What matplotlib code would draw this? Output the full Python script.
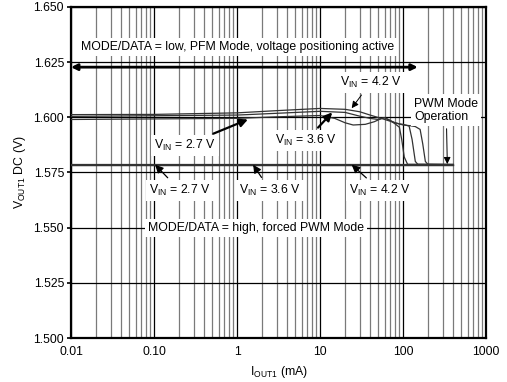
import matplotlib
matplotlib.use('Agg')
import matplotlib.pyplot as plt
from matplotlib.ticker import FixedLocator, NullFormatter

plt.rcParams['font.family'] = ['Liberation Sans', 'DejaVu Sans']
plt.rcParams['mathtext.fontset'] = 'custom'
plt.rcParams['mathtext.rm'] = 'Liberation Sans'

# PFM mode (MODE/DATA = low) curves, Iout in mA, Vout in V
i_42 = [0.01, 0.1, 1, 3, 10, 20, 30, 40, 60, 80, 100, 120, 140, 160, 172, 185, 198, 400]
v_42 = [1.6012, 1.6013, 1.6020, 1.6030, 1.6040, 1.6036, 1.6025, 1.6010, 1.5990, 1.5975,
        1.5965, 1.5962, 1.5958, 1.5945, 1.5880, 1.5800, 1.5787, 1.5786]

i_36 = [0.01, 1, 3, 10, 20, 30, 40, 50, 60, 70, 80, 90, 100, 118, 128, 140, 150, 400]
v_36 = [1.6004, 1.6010, 1.6018, 1.6027, 1.6022, 1.6005, 1.5995, 1.5990, 1.5998, 1.5985,
        1.5975, 1.5970, 1.5968, 1.5960, 1.5900, 1.5800, 1.5787, 1.5786]

i_27 = [0.01, 1, 3, 10, 15, 20, 25, 35, 45, 55, 60, 70, 80, 90, 96, 103, 113, 400]
v_27 = [1.5990, 1.5995, 1.6002, 1.6008, 1.5995, 1.5975, 1.5965, 1.5968, 1.5980, 1.5995,
        1.5998, 1.5985, 1.5970, 1.5955, 1.5900, 1.5820, 1.5787, 1.5786]

# forced PWM mode (MODE/DATA = high)
i_pwm = [0.01, 400]
v_pwm_27 = [1.5785, 1.5785]
v_pwm_36 = [1.5786, 1.5786]
v_pwm_42 = [1.5787, 1.5787]

x_ticks = [0.01, 0.1, 1, 10, 100, 1000]
x_labels = ['0.01', '0.10', '1', '10', '100', '1000']
y_ticks = [1.500, 1.525, 1.550, 1.575, 1.600, 1.625, 1.650]

fs = 8.8

fig = plt.figure(figsize=(5.07, 3.82), dpi=100)
ax = fig.add_axes([0.140, 0.115, 0.819, 0.867])
ax.set_xscale('log')
ax.set_xlim(0.01, 1000)
ax.set_ylim(1.5, 1.65)

# grid
ax.xaxis.set_minor_locator(FixedLocator([m * 10.0 ** e for e in range(-2, 3) for m in range(2, 10)]))
ax.xaxis.set_minor_formatter(NullFormatter())
ax.grid(True, which='major', axis='both', color='black', lw=0.9)
ax.grid(True, which='minor', axis='x', color='#7a7a7a', lw=0.9)
ax.set_axisbelow(True)

ax.set_xticks(x_ticks)
ax.set_xticklabels(x_labels)
ax.set_yticks(y_ticks)
ax.set_yticklabels(['%.3f' % v for v in y_ticks])
ax.tick_params(axis='both', which='both', labelsize=fs, length=0)
ax.tick_params(axis='x', which='major', pad=6)
ax.tick_params(axis='y', which='major', length=3, width=1.2, direction='out', pad=2)
for s in ax.spines.values():
    s.set_linewidth(1.6)

for i, v in [(i_42, v_42), (i_36, v_36), (i_27, v_27)]:
    ax.plot(i, v, color='#333333', lw=0.9, zorder=3)
for v in [v_pwm_27, v_pwm_36, v_pwm_42]:
    ax.plot(i_pwm, v, color='#333333', lw=0.9, zorder=3)

ax.set_xlabel(r'I$_{\mathregular{OUT1}}$ (mA)', fontsize=fs, labelpad=4)
ax.set_ylabel(r'V$_{\mathregular{OUT1}}$ DC (V)', fontsize=fs, labelpad=4)

box = dict(boxstyle='square,pad=0.25', fc='white', ec='none')
thin = dict(arrowstyle='-|>', color='black', lw=0.7, mutation_scale=10, shrinkA=2, shrinkB=0)
mid = dict(arrowstyle='-|>', color='black', lw=0.9, mutation_scale=12, shrinkA=2, shrinkB=0)
thick = dict(arrowstyle='-|>', color='black', lw=1.6, mutation_scale=12, shrinkA=2, shrinkB=0)

# PFM range arrow
ax.annotate('', xy=(0.01, 1.6227), xytext=(150, 1.6227),
            arrowprops=dict(arrowstyle='<|-|>', color='black', lw=2, mutation_scale=9,
                            shrinkA=0, shrinkB=0), zorder=4)
ax.text(1.0, 1.6320, 'MODE/DATA = low, PFM Mode, voltage positioning active',
        fontsize=fs, ha='center', va='center', bbox=box, zorder=5)
ax.text(1.7, 1.5500, 'MODE/DATA = high, forced PWM Mode',
        fontsize=fs, ha='center', va='center', bbox=box, zorder=5)

ax.annotate(r'V$_{\mathregular{IN}}$ = 4.2 V', xy=(24, 1.6041), xytext=(41, 1.6159),
            fontsize=fs, ha='center', va='center', bbox=box, arrowprops=thin, zorder=5)
ax.annotate(r'V$_{\mathregular{IN}}$ = 3.6 V', xy=(14, 1.6022), xytext=(6.8, 1.5896),
            fontsize=fs, ha='center', va='center', bbox=box, arrowprops=thick, zorder=5)
ax.annotate(r'V$_{\mathregular{IN}}$ = 2.7 V', xy=(1.35, 1.5990), xytext=(0.236, 1.5873),
            fontsize=fs, ha='center', va='center', bbox=box, arrowprops=thick, zorder=5)
ax.annotate('PWM Mode\nOperation', xy=(340, 1.5788), xytext=(330, 1.6032),
            fontsize=fs, ha='center', va='center', multialignment='left', bbox=box,
            linespacing=1.15, arrowprops=thin, zorder=5)

ax.annotate(r'V$_{\mathregular{IN}}$ = 2.7 V', xy=(0.103, 1.5785), xytext=(0.205, 1.5669),
            fontsize=fs, ha='center', va='center', bbox=box, arrowprops=mid, zorder=5)
ax.annotate(r'V$_{\mathregular{IN}}$ = 3.6 V', xy=(1.56, 1.5785), xytext=(2.5, 1.5669),
            fontsize=fs, ha='center', va='center', bbox=box, arrowprops=mid, zorder=5)
ax.annotate(r'V$_{\mathregular{IN}}$ = 4.2 V', xy=(24, 1.5785), xytext=(53, 1.5669),
            fontsize=fs, ha='center', va='center', bbox=box, arrowprops=mid, zorder=5)

fig.savefig('out.png', dpi=100)
